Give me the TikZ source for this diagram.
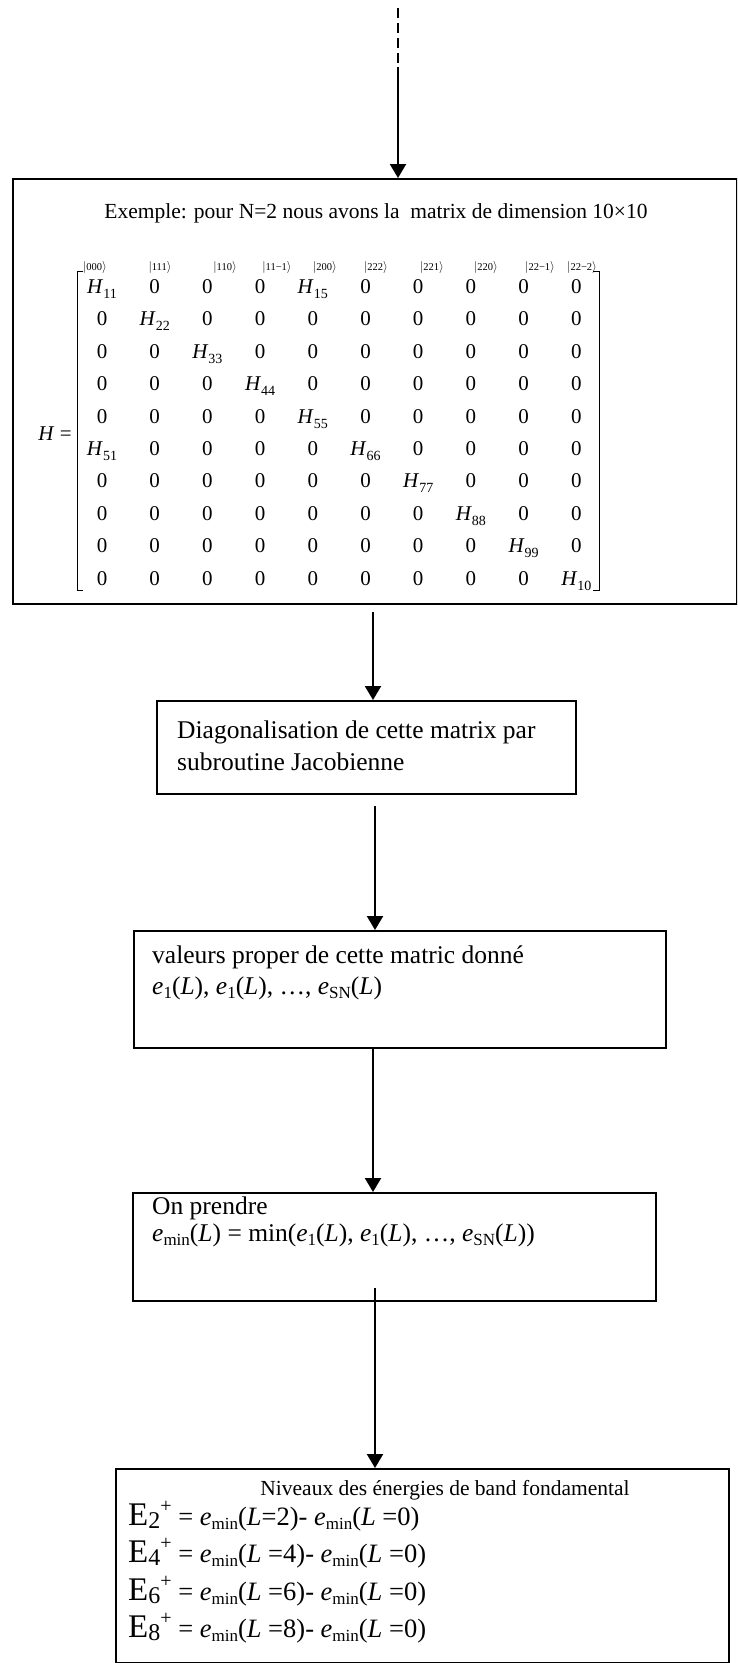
\documentclass[tikz,border=0pt]{standalone}
\usepackage{fontspec}
\setmainfont{Liberation Serif}
\usetikzlibrary{arrows.meta}

% small helpers for the formulas
\newcommand\kt[1]{{\fontsize{13}{14}\selectfont$\vert$}#1{\fontsize{13}{14}\selectfont$\rangle$}}
\newcommand\Hs[1]{\textit{H}\raisebox{-5pt}{\fontsize{14}{14}\selectfont #1}}
\newcommand\cellent[1]{\edef\tmpa{#1}\def\tmpz{0}\ifx\tmpa\tmpz 0\else\Hs{#1}\fi}
\newcommand\esub[1]{\textit{e}\raisebox{-4pt}{\fontsize{17}{17}\selectfont #1}}
\newcommand\Elevel[1]{{\fontsize{33}{33}\selectfont E}\raisebox{-3pt}{\fontsize{24}{24}\selectfont #1}\raisebox{13pt}{\fontsize{20}{20}\selectfont +}}

\begin{document}
\begin{tikzpicture}[x=1pt,y=-1pt,
  box/.style={draw,line width=1.7pt,inner sep=0pt},
  flow/.style={line width=2.2pt,-{Triangle[width=16pt,length=14pt]}},
  txt/.style={inner sep=0pt,anchor=base west,font=\fontsize{25.5}{30}\selectfont},
  etxt/.style={inner sep=0pt,anchor=base west,font=\fontsize{26.5}{30}\selectfont},
  head/.style={inner sep=0pt,anchor=base,font=\fontsize{21.5}{25}\selectfont},
  cell/.style={inner sep=0pt,anchor=base,font=\fontsize{21}{25}\selectfont},
  ketl/.style={inner sep=0pt,anchor=base,font=\fontsize{10.5}{12}\selectfont},
  brk/.style={line width=0.9pt},
]
\useasboundingbox (0,0) rectangle (737,1663);
\clip (0,0) rectangle (737,1663);

% boxes
\node[box,anchor=north west,minimum width=724pt,minimum height=425pt] (b1) at (12,178) {};
\node[box,anchor=north west,minimum width=419pt,minimum height=93pt]  (b2) at (156,700) {};
\node[box,anchor=north west,minimum width=532pt,minimum height=117pt] (b3) at (133,930) {};
\node[box,anchor=north west,minimum width=523pt,minimum height=108pt] (b4) at (132,1192) {};
\node[box,anchor=north west,minimum width=613pt,minimum height=194pt] (b5) at (115,1468) {};

% connectors
\coordinate (d0) at (398,8);
\coordinate (d1) at (398,67);
\draw[line width=2.2pt,dash pattern=on 10pt off 5pt] (d0) -- (d1);
\draw[flow] (d1) -- (d1 |- b1.north);
\coordinate (a2) at (373,612);
\draw[flow] (a2) -- (a2 |- b2.north);
\coordinate (a3) at (375,806);
\draw[flow] (a3) -- (a3 |- b3.north);
\coordinate (a4) at (373,1047);
\draw[flow] (a4) -- (a4 |- b4.north);
\coordinate (a5) at (375,1288);
\draw[flow] (a5) -- (a5 |- b5.north);

% matrix box
\node[head] (title) at (376,218) {Exemple: pour N=2 nous avons la\ \ matrix de dimension 10×10};

\foreach \lab/\kx [count=\i] in {000/95,111/160,110/225,11−1/277,200/325,222/376,221/432,220/486,22−1/540,22−2/582}{
  \node[ketl] (k\i) at (\kx,270) {\kt{\lab}};
}

\node[cell] (Heq) at (55,440) {\textit{H} =};
\draw[brk] (83,271) -- (77,271) -- (77,590) -- (83,590);
\draw[brk] (593,271) -- (599,271) -- (599,590) -- (593,590);

\foreach \rowlist [count=\r] in {
  {11,0,0,0,15,0,0,0,0,0},
  {0,22,0,0,0,0,0,0,0,0},
  {0,0,33,0,0,0,0,0,0,0},
  {0,0,0,44,0,0,0,0,0,0},
  {0,0,0,0,55,0,0,0,0,0},
  {51,0,0,0,0,66,0,0,0,0},
  {0,0,0,0,0,0,77,0,0,0},
  {0,0,0,0,0,0,0,88,0,0},
  {0,0,0,0,0,0,0,0,99,0},
  {0,0,0,0,0,0,0,0,0,10}}{
  \foreach \e [count=\c] in \rowlist {
    \pgfmathsetmacro\cx{102+(\c-1)*52.7}
    \pgfmathsetmacro\cy{293.5+(\r-1)*32.4}
    \node[cell] (m\r-\c) at (\cx,\cy) {\cellent{\e}};
  }
}

% second box
\node[txt] (t2a) at (177,738) {Diagonalisation de cette matrix par};
\node[txt] (t2b) at (177,770) {subroutine Jacobienne};

% third box
\node[txt] (t3a) at (152,963) {valeurs proper de cette matric donné};
\node[txt] (t3b) at (152,994) {\esub{1}(\textit{L}), \esub{1}(\textit{L}), …, \esub{SN}(\textit{L})};

% fourth box
\node[txt] (t4a) at (152,1214) {On prendre};
\node[txt] (t4b) at (152,1241) {\esub{min}(\textit{L}) = min(\esub{1}(\textit{L}), \esub{1}(\textit{L}), …, \esub{SN}(\textit{L}))};

% fifth box
\node[head] (t5h) at (445,1495) {Niveaux des énergies de band fondamental};
\node[etxt] (e2) at (128,1525) {\Elevel{2} = \esub{min}(\textit{L}=2)- \esub{min}(\textit{L} =0)};
\node[etxt] (e4) at (128,1562) {\Elevel{4} = \esub{min}(\textit{L} =4)- \esub{min}(\textit{L} =0)};
\node[etxt] (e6) at (128,1600) {\Elevel{6} = \esub{min}(\textit{L} =6)- \esub{min}(\textit{L} =0)};
\node[etxt] (e8) at (128,1637) {\Elevel{8} = \esub{min}(\textit{L} =8)- \esub{min}(\textit{L} =0)};
\end{tikzpicture}
\end{document}
